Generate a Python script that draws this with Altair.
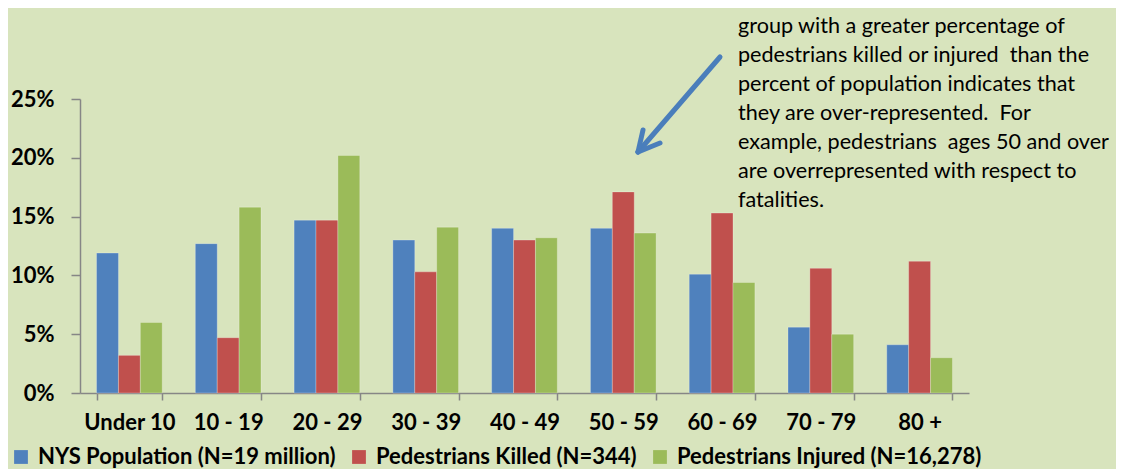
import altair as alt
import pandas as pd

categories = ["Under 10", "10 - 19", "20 - 29", "30 - 39", "40 - 49",
              "50 - 59", "60 - 69", "70 - 79", "80 +"]
series_names = ["NYS Population (N=19 million)",
                "Pedestrians Killed (N=344)",
                "Pedestrians Injured (N=16,278)"]
population = [11.9, 12.7, 14.7, 13.0, 14.0, 14.0, 10.1, 5.6, 4.1]
killed = [3.2, 4.7, 14.7, 10.3, 13.0, 17.1, 15.3, 10.6, 11.2]
injured = [6.0, 15.8, 20.2, 14.1, 13.2, 13.6, 9.4, 5.0, 3.0]
colors = ["#4F81BD", "#C0504D", "#9BBB59"]
y_ticks = [0, 0.05, 0.10, 0.15, 0.20, 0.25]
note_lines = [
    "In interpreting these data, any age",
    "group with a greater percentage of",
    "pedestrians killed or injured \u00a0than the",
    "percent of population indicates that",
    "they are over-represented. \u00a0For",
    "example, pedestrians \u00a0ages 50 and over",
    "are overrepresented with respect to",
    "fatalities.",
]

rows = []
for name, vals in zip(series_names, [population, killed, injured]):
    for c, v in zip(categories, vals):
        rows.append({"age": c, "series": name, "value": v / 100})
df = pd.DataFrame(rows)

FONT = "Lato"
BG = "#D8E4BD"
AXIS = "#868686"

bars = alt.Chart(df).mark_bar(stroke="#FFFFFF", strokeOpacity=0.25, strokeWidth=1).encode(
    x=alt.X("age:N", sort=categories,
            scale=alt.Scale(paddingInner=0.335, paddingOuter=0.1675),
            axis=alt.Axis(title=None, labelAngle=0, tickBand="extent", tickSize=7,
                          labelPadding=12, labelFont=FONT, labelFontSize=22,
                          labelFontWeight="bold", labelColor="#000000",
                          domainColor=AXIS, tickColor=AXIS, domainWidth=1.5,
                          tickWidth=1.5)),
    xOffset=alt.XOffset("series:N", sort=series_names,
                        scale=alt.Scale(paddingInner=0, paddingOuter=0)),
    y=alt.Y("value:Q", scale=alt.Scale(domain=[0, 0.25], nice=False),
            axis=alt.Axis(title=None, values=y_ticks, format=".0%", grid=False,
                          tickSize=9, labelPadding=17, labelFont=FONT,
                          labelFontSize=22, labelFontWeight="bold",
                          labelColor="#000000", domainColor=AXIS, tickColor=AXIS,
                          domainWidth=1.5, tickWidth=1.5)),
    color=alt.Color("series:N", sort=series_names,
                    scale=alt.Scale(domain=series_names, range=colors),
                    legend=alt.Legend(title=None, orient="none", direction="horizontal",
                                      legendX=-70, legendY=347, symbolType="square",
                                      symbolSize=190, symbolStrokeWidth=0,
                                      labelFont=FONT, labelFontSize=22,
                                      labelFontWeight="bold", labelColor="#000000",
                                      labelOffset=6, columnPadding=12, padding=0,
                                      labelLimit=400)),
)

one = pd.DataFrame({"k": [0]})
ARROW = "#4A7EBB"
seg1 = alt.Chart(one).mark_rule(color=ARROW, strokeWidth=5, strokeCap="round").encode(
    x=alt.value(640), y=alt.value(-42), x2=alt.value(558), y2=alt.value(53))
seg2 = alt.Chart(one).mark_rule(color=ARROW, strokeWidth=5, strokeCap="round").encode(
    x=alt.value(563), y=alt.value(31), x2=alt.value(558), y2=alt.value(53))
seg3 = alt.Chart(one).mark_rule(color=ARROW, strokeWidth=5, strokeCap="round").encode(
    x=alt.value(580), y=alt.value(44), x2=alt.value(558), y2=alt.value(53))

note = alt.Chart(one).mark_text(
    text=note_lines, align="left", baseline="alphabetic", lineHeight=29,
    font=FONT, fontSize=21.6, color="#000000"
).encode(x=alt.value(658), y=alt.value(-95))

chart = alt.layer(bars, seg1, seg2, seg3, note).properties(
    width=889, height=294, autosize="none",
    padding={"left": 72, "top": 91, "right": 147, "bottom": 76},
    background=BG,
).configure_view(stroke=None)

chart.save("out.html", embed_options={"renderer": "svg", "actions": False})
